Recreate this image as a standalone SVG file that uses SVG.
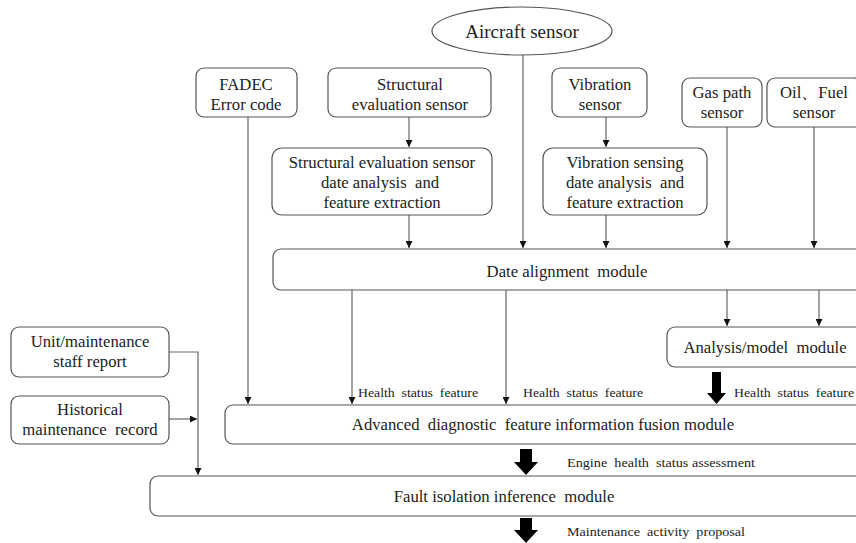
<svg xmlns="http://www.w3.org/2000/svg" width="856" height="543" viewBox="0 0 856 543">
<defs>
<style>
.box{fill:#fff;stroke:#555;stroke-width:1.2}
.t{font-family:"Liberation Serif","Times New Roman",serif;font-size:16.7px;fill:#222;text-anchor:middle;white-space:pre}
.s{font-family:"Liberation Serif","Times New Roman",serif;font-size:13.5px;fill:#222;white-space:pre}
.ln{fill:none;stroke:#666;stroke-width:1.2}
.big{fill:#000}
</style>
<marker id="ah" viewBox="0 0 10 10" refX="10" refY="5" markerWidth="7" markerHeight="7" markerUnits="userSpaceOnUse" orient="auto">
<path d="M0,0 L10,5 L0,10 z" fill="#111"/>
</marker>
</defs>
<rect width="856" height="543" fill="#fff"/>

<g id="connectors">
<line class="ln" x1="523" y1="55" x2="523" y2="248" marker-end="url(#ah)"/>
<line class="ln" x1="409" y1="117" x2="409" y2="147" marker-end="url(#ah)"/>
<line class="ln" x1="606" y1="117" x2="606" y2="147" marker-end="url(#ah)"/>
<line class="ln" x1="409" y1="215" x2="409" y2="248" marker-end="url(#ah)"/>
<line class="ln" x1="606" y1="215" x2="606" y2="248" marker-end="url(#ah)"/>
<line class="ln" x1="727" y1="127" x2="727" y2="248" marker-end="url(#ah)"/>
<line class="ln" x1="814" y1="127" x2="814" y2="248" marker-end="url(#ah)"/>
<line class="ln" x1="248" y1="117" x2="248" y2="404" marker-end="url(#ah)"/>
<line class="ln" x1="352" y1="290" x2="352" y2="404" marker-end="url(#ah)"/>
<line class="ln" x1="506" y1="290" x2="506" y2="404" marker-end="url(#ah)"/>
<line class="ln" x1="727" y1="290" x2="727" y2="326" marker-end="url(#ah)"/>
<line class="ln" x1="819" y1="290" x2="819" y2="326" marker-end="url(#ah)"/>
<polyline class="ln" points="169,352 198,352 198,475" marker-end="url(#ah)"/>
<line class="ln" x1="169" y1="419" x2="197" y2="419" marker-end="url(#ah)"/>
<polygon class="big" points="712,372 721,372 721,393 726,393 716.5,404 707,393 712,393"/>
<polygon class="big" points="520,449 532,449 532,462 538,462 526,475 514,462 520,462"/>
<polygon class="big" points="520,518 532,518 532,530 538,530 526,543 514,530 520,530"/>
</g>

<g id="aircraft-sensor">
<ellipse class="box" cx="522" cy="31" rx="90" ry="24"/>
<text class="t" x="522" y="38" style="font-size:19px">Aircraft sensor</text>
</g>
<g id="fadec">
<rect class="box" x="196" y="68" width="101" height="49" rx="8"/>
<text class="t" x="246" y="90">FADEC</text>
<text class="t" x="246" y="110">Error code</text>
</g>
<g id="structural-sensor">
<rect class="box" x="328" y="68" width="163" height="49" rx="8"/>
<text class="t" x="410" y="90">Structural</text>
<text class="t" x="410" y="110">evaluation sensor</text>
</g>
<g id="structural-analysis">
<rect class="box" x="272" y="148" width="220" height="67" rx="10"/>
<text class="t" x="382" y="168">Structural evaluation sensor</text>
<text class="t" x="380" y="188">date analysis  and</text>
<text class="t" x="382" y="208">feature extraction</text>
</g>
<g id="vibration-sensor">
<rect class="box" x="552" y="68" width="95" height="49" rx="8"/>
<text class="t" x="600" y="90">Vibration</text>
<text class="t" x="600" y="110">sensor</text>
</g>
<g id="vibration-analysis">
<rect class="box" x="543" y="148" width="164" height="67" rx="10"/>
<text class="t" x="625" y="168">Vibration sensing</text>
<text class="t" x="625" y="188">date analysis  and</text>
<text class="t" x="625" y="208">feature extraction</text>
</g>
<g id="gas-path-sensor">
<rect class="box" x="682" y="78" width="80" height="49" rx="8"/>
<text class="t" x="722" y="98">Gas path</text>
<text class="t" x="722" y="118">sensor</text>
</g>
<g id="oil-fuel-sensor">
<rect class="box" x="767" y="78" width="95" height="49" rx="8"/>
<text class="t" x="814" y="98">Oil、Fuel</text>
<text class="t" x="814" y="118">sensor</text>
</g>
<g id="date-alignment">
<rect class="box" x="273" y="249" width="600" height="41" rx="8"/>
<text class="t" x="567" y="277">Date alignment  module</text>
</g>
<g id="analysis-model">
<rect class="box" x="667" y="327" width="200" height="40" rx="8"/>
<text class="t" x="765" y="353">Analysis/model  module</text>
</g>
<g id="unit-report">
<rect class="box" x="11" y="327" width="158" height="50" rx="8"/>
<text class="t" x="90" y="347">Unit/maintenance</text>
<text class="t" x="90" y="367">staff report</text>
</g>
<g id="historical-record">
<rect class="box" x="11" y="396" width="158" height="48" rx="8"/>
<text class="t" x="90" y="415">Historical</text>
<text class="t" x="90" y="435">maintenance  record</text>
</g>
<g id="fusion">
<rect class="box" x="225" y="405" width="650" height="39" rx="8"/>
<text class="t" x="543" y="430">Advanced  diagnostic  feature information fusion module</text>
</g>
<g id="fault-isolation">
<rect class="box" x="150" y="476" width="720" height="40" rx="8"/>
<text class="t" x="504" y="502">Fault isolation inference  module</text>
</g>
<g id="labels">
<text class="s" x="358" y="397" textLength="120" lengthAdjust="spacingAndGlyphs">Health  status  feature</text>
<text class="s" x="523" y="397" textLength="120" lengthAdjust="spacingAndGlyphs">Health  status  feature</text>
<text class="s" x="734" y="397" textLength="120" lengthAdjust="spacingAndGlyphs">Health  status  feature</text>
<text class="s" x="567" y="467" textLength="188" lengthAdjust="spacingAndGlyphs">Engine  health  status assessment</text>
<text class="s" x="567" y="536" textLength="178" lengthAdjust="spacingAndGlyphs">Maintenance  activity  proposal</text>
</g>
</svg>
